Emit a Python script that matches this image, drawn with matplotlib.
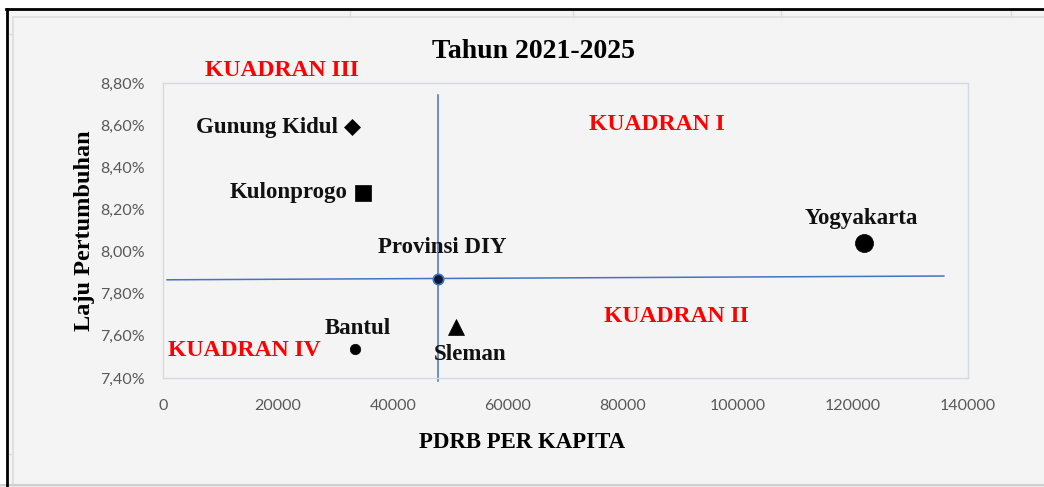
import matplotlib
matplotlib.use("Agg")
import matplotlib.pyplot as plt
from matplotlib.lines import Line2D
from matplotlib.patches import Rectangle
from matplotlib.ticker import FuncFormatter

# ---- data ----
regions = ["Gunung Kidul", "Kulonprogo", "Provinsi DIY", "Bantul", "Sleman", "Yogyakarta"]
pdrb_per_capita = [32900, 34800, 47800, 33400, 51000, 121900]
growth_pct = [8.59, 8.28, 7.87, 7.54, 7.64, 8.04]
x_ticks = [0, 20000, 40000, 60000, 80000, 100000, 120000, 140000]
y_ticks = [7.40, 7.60, 7.80, 8.00, 8.20, 8.40, 8.60, 8.80]
quadrant_labels = ["KUADRAN I", "KUADRAN II", "KUADRAN III", "KUADRAN IV"]
title = "Tahun 2021-2025"
x_label = "PDRB PER KAPITA"
y_label = "Laju Pertumbuhan"

# ---- styles ----
markers = ["D", "s", "o", "o", "^", "o"]
msizes = [8.5, 12, 7.5, 7.5, 12, 13]
faces = ["black", "black", "#0d1a33", "black", "black", "black"]
edges = ["black", "black", "#4472c4", "black", "black", "black"]
# label offsets in pixels (dx, dy), alignment
label_off = [(-14, 0, "right", "center"), (-16, 0, "right", "center"),
             (4, 31, "center", "center"), (3, 20, "center", "center"),
             (14, -27, "center", "center"), (-3, 25, "center", "center")]

W, H = 1044, 487
DPI = 100
fig = plt.figure(figsize=(W / DPI, H / DPI), dpi=DPI, facecolor="white")

def fx(px):
    return px / W

def fy(py):
    return 1 - py / H

# spreadsheet/background decorations
fig.patches.append(Rectangle((fx(8), fy(484)), fx(W) - fx(8), fy(9) - fy(484),
                             transform=fig.transFigure, facecolor="#f4f4f4",
                             edgecolor="none", zorder=0))
fig.patches.append(Rectangle((0, 0), 1, fy(484), transform=fig.transFigure,
                             facecolor="#ececec", edgecolor="none", zorder=0))
grid_c = "#dcdcdc"
fig.lines.append(Line2D([fx(13), 1], [fy(17), fy(17)], transform=fig.transFigure,
                        color=grid_c, lw=1.2, zorder=1))
fig.lines.append(Line2D([fx(13), fx(13)], [fy(17), fy(484)], transform=fig.transFigure,
                        color=grid_c, lw=1.2, zorder=1))
for px in [350, 573, 781, 1011]:
    fig.lines.append(Line2D([fx(px), fx(px)], [fy(9), fy(17)], transform=fig.transFigure,
                            color=grid_c, lw=1, zorder=1))
for py in [34, 454]:
    fig.lines.append(Line2D([fx(8), fx(13)], [fy(py), fy(py)], transform=fig.transFigure,
                            color=grid_c, lw=1, zorder=1))
fig.lines.append(Line2D([0, 1], [fy(484.5), fy(484.5)], transform=fig.transFigure,
                        color="#cfcfcf", lw=1.5, zorder=1))
fig.lines.append(Line2D([fx(6), 1], [fy(8.5), fy(8.5)], transform=fig.transFigure,
                        color="black", lw=2, zorder=2))
fig.lines.append(Line2D([fx(7), fx(7)], [fy(8.5), fy(487)], transform=fig.transFigure,
                        color="black", lw=2, zorder=2))

ax = fig.add_axes([fx(163), fy(378), fx(968) - fx(163), fy(83) - fy(378)])
ax.set_zorder(2.5)
ax.set_facecolor("#f4f4f4")
ax.set_xlim(0, 140000)
ax.set_ylim(7.40, 8.80)
for s in ax.spines.values():
    s.set_color("#d5d9e3")
    s.set_linewidth(1)

serif = ["Liberation Serif", "DejaVu Serif"]
tick_font = ["Lato", "DejaVu Sans"]

ax.set_xticks(x_ticks)
ax.set_yticks(y_ticks)
ax.xaxis.set_major_formatter(FuncFormatter(lambda v, p: f"{int(v)}"))
ax.yaxis.set_major_formatter(FuncFormatter(lambda v, p: f"{v:.2f}%".replace(".", ",")))
ax.tick_params(axis="both", length=0, colors="#595959", labelsize=11.5)
ax.tick_params(axis="x", pad=15)
ax.tick_params(axis="y", pad=13)
for lab in ax.get_xticklabels() + ax.get_yticklabels():
    lab.set_family(tick_font)

# quadrant lines through the province point
qx = pdrb_per_capita[regions.index("Provinsi DIY")]
qy = growth_pct[regions.index("Provinsi DIY")]
ax.plot([qx, qx], [7.386, 8.743], color="#4472c4", lw=1.1, clip_on=False, zorder=2)
ax.plot([700, 135800], [qy - 0.004, qy + 0.014], color="#4472c4", lw=1.1, zorder=2)

for i, name in enumerate(regions):
    ax.plot(pdrb_per_capita[i], growth_pct[i], marker=markers[i], ms=msizes[i],
            mfc=faces[i], mec=edges[i], mew=1.2 if edges[i] != "black" else 0.5,
            ls="none", zorder=4, clip_on=False)
    dx, dy, ha, va = label_off[i]
    ax.annotate(name, (pdrb_per_capita[i], growth_pct[i]),
                xytext=(dx * 0.72, dy * 0.72), textcoords="offset points",
                ha=ha, va=va, fontsize=16.5, fontweight="bold", family=serif,
                color="#111111", zorder=5)

# quadrant labels (figure pixel positions)
q_pos = {"KUADRAN I": (657, 125), "KUADRAN II": (676, 317),
         "KUADRAN III": (282, 70), "KUADRAN IV": (244, 350)}
for q in quadrant_labels:
    px, py = q_pos[q]
    fig.text(fx(px), fy(py), q, ha="center", va="center", fontsize=17,
             fontweight="bold", family=serif, color="#ff0000", zorder=6)

fig.text(fx(533), fy(52), title, ha="center", va="center", fontsize=20,
         fontweight="bold", family=serif, color="black", zorder=6)
fig.text(fx(522), fy(443), x_label, ha="center", va="center", fontsize=16.5,
         fontweight="bold", family=serif, color="black", zorder=6)
fig.text(fx(85), fy(231), y_label, ha="center", va="center", rotation=90,
         fontsize=17.5, fontweight="bold", family=serif, color="black", zorder=6)

fig.savefig("out.png", dpi=DPI, facecolor=fig.get_facecolor())
